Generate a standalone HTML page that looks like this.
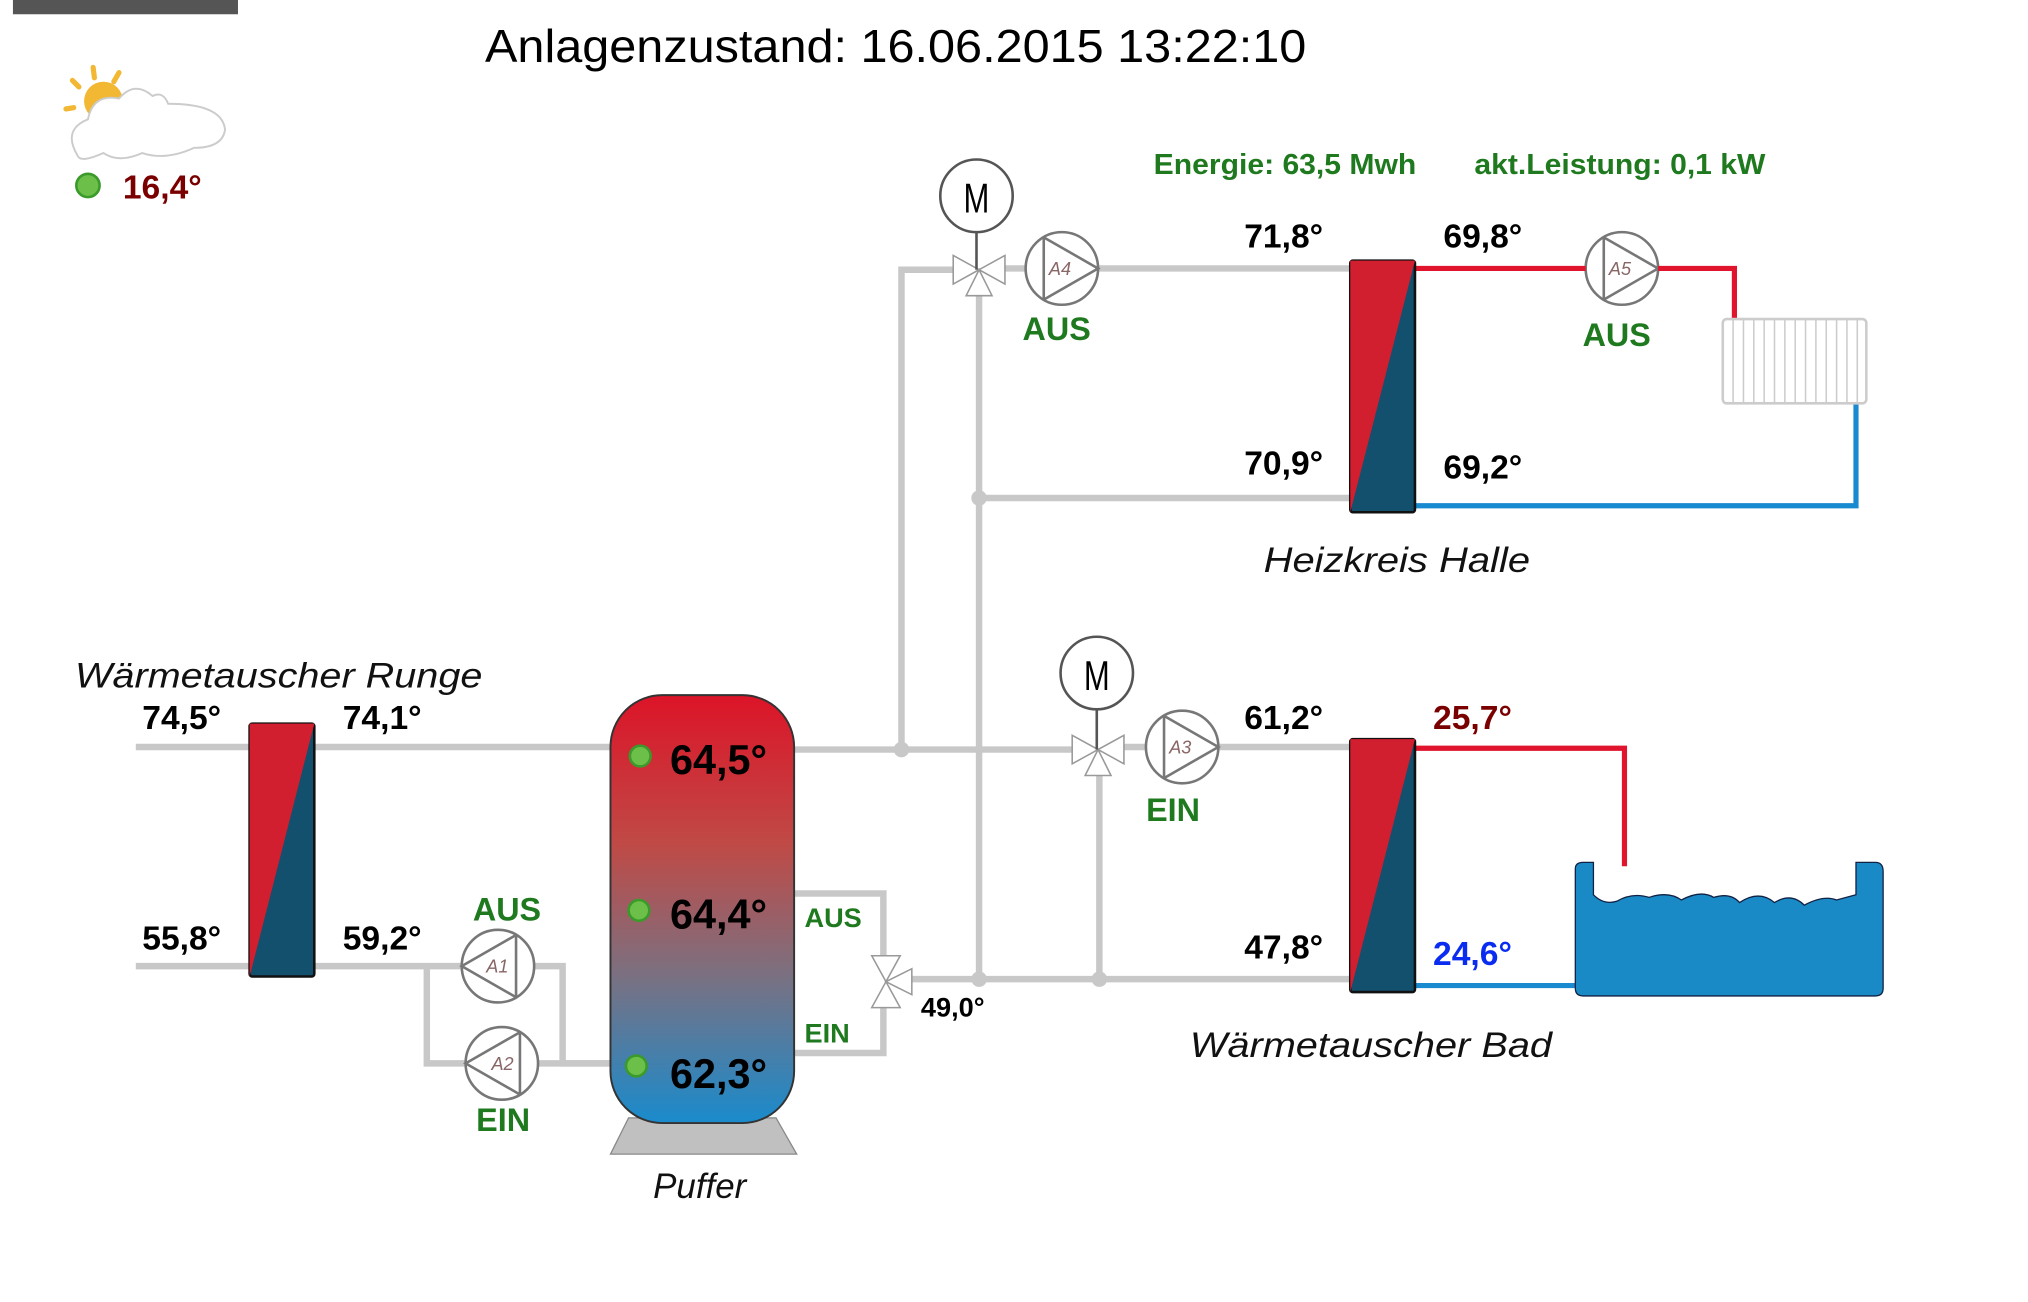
<!DOCTYPE html>
<html><head><meta charset="utf-8"><style>
html,body{margin:0;padding:0;background:#fff;width:2028px;height:1302px;overflow:hidden}
svg{display:block}
text{font-family:"Liberation Sans",sans-serif}
.b{font-weight:bold;font-size:26px;fill:#000}
.g{font-weight:bold;font-size:25px;fill:#1f7a1f}
.it{font-style:italic;font-size:27px;fill:#111}
</style></head><body>
<svg width="2028" height="1302" viewBox="0 0 1568 1004" preserveAspectRatio="none">
<defs>
<linearGradient id="tank" x1="0" y1="0" x2="0" y2="1">
<stop offset="0" stop-color="#dc1428"/><stop offset="0.35" stop-color="#bf4a46"/>
<stop offset="0.65" stop-color="#7c7080"/><stop offset="1" stop-color="#1a8bcc"/></linearGradient>
</defs>
<rect x="10" y="0" width="174" height="11" fill="#555"/>
<text x="375" y="48" font-size="36" textLength="635" lengthAdjust="spacingAndGlyphs">Anlagenzustand:  16.06.2015   13:22:10</text>
<g stroke="#f2b733" stroke-width="4" stroke-linecap="round">
<line x1="72" y1="52" x2="73" y2="60"/><line x1="56" y1="62" x2="61" y2="67"/><line x1="51" y1="84" x2="57" y2="83"/><line x1="92" y1="56" x2="88" y2="63"/></g>
<circle cx="80" cy="78" r="15" fill="#f2b733"/>
<path d="M60 120 Q48 100 68 92 Q72 72 92 76 Q104 62 118 74 Q126 70 130 80 Q172 80 174 100 Q172 114 150 114 Q128 124 110 118 Q92 126 80 118 Q62 126 60 120Z" fill="#fff" stroke="#ccc" stroke-width="1.5"/>
<circle cx="68" cy="143" r="9" fill="#6cc04a" stroke="#3a9a2a" stroke-width="2"/>
<text x="95" y="153" class="b" style="fill:#7a0000;font-size:26px">16,4°</text>
<text x="892" y="134" class="g" style="font-size:22px" textLength="203" lengthAdjust="spacingAndGlyphs">Energie: 63,5 Mwh</text>
<text x="1140" y="134" class="g" style="font-size:22px" textLength="225" lengthAdjust="spacingAndGlyphs">akt.Leistung: 0,1 kW</text>
<g stroke="#c8c8c8" stroke-width="5" fill="none">
<polyline points="697,578 697,208 740,208"/>
<line x1="770" y1="207" x2="1045" y2="207"/>
<line x1="757" y1="225" x2="757" y2="755"/>
<line x1="757" y1="384" x2="1045" y2="384"/>
<line x1="105" y1="576" x2="472" y2="576"/>
<line x1="614" y1="578" x2="830" y2="578"/>
<line x1="866" y1="576" x2="1045" y2="576"/>
<line x1="850" y1="598" x2="850" y2="755"/>
<line x1="700" y1="755" x2="1045" y2="755"/>
<polyline points="614,689 683,689 683,740"/>
<polyline points="614,812 683,812 683,775"/>
<line x1="105" y1="745" x2="193" y2="745"/>
<polyline points="243,745 357,745"/>
<polyline points="330,745 330,820 360,820"/>
<polyline points="413,745 435,745 435,820 472,820"/>
<line x1="416" y1="820" x2="472" y2="820"/>
</g>
<g fill="#c8c8c8"><circle cx="697" cy="578" r="6"/><circle cx="757" cy="384" r="6"/><circle cx="757" cy="755" r="6"/><circle cx="850" cy="755" r="6"/></g>
<g stroke="#999" stroke-width="1.2" fill="#fff">
<path d="M737 197 L757 208 L737 219Z M777 197 L757 208 L777 219Z M757 208 L747 228 L767 228Z"/>
<path d="M829 567 L849 578 L829 589Z M869 567 L849 578 L869 589Z M849 578 L839 598 L859 598Z"/>
<path d="M674 737 L685 757 L696 737Z M674 777 L685 757 L696 777Z M685 757 L705 747 L705 767Z"/>
</g>
<g stroke="#555" stroke-width="2" fill="#fff">
<line x1="755" y1="179" x2="755" y2="208"/><circle cx="755" cy="151" r="28"/>
<line x1="848" y1="547" x2="848" y2="578"/><circle cx="848" cy="519" r="28"/>
</g>
<text x="755" y="164" text-anchor="middle" font-size="32" textLength="20" lengthAdjust="spacingAndGlyphs">M</text>
<text x="848" y="532" text-anchor="middle" font-size="32" textLength="20" lengthAdjust="spacingAndGlyphs">M</text>
<g stroke="#777" stroke-width="2" fill="#fff">
<circle cx="821" cy="207" r="28"/><path d="M807 183 L849 207 L807 231" fill="none"/><line x1="807" y1="183" x2="807" y2="231"/>
<circle cx="914" cy="576" r="28"/><path d="M900 552 L942 576 L900 600" fill="none"/><line x1="900" y1="552" x2="900" y2="600"/>
<circle cx="1254" cy="207" r="28"/><path d="M1240 183 L1282 207 L1240 231" fill="none"/><line x1="1240" y1="183" x2="1240" y2="231"/>
<circle cx="385" cy="745" r="28"/><path d="M399 721 L357 745 L399 769" fill="none"/><line x1="399" y1="721" x2="399" y2="769"/>
<circle cx="388" cy="820" r="28"/><path d="M402 796 L360 820 L402 844" fill="none"/><line x1="402" y1="796" x2="402" y2="844"/>
</g>
<g font-family="Liberation Serif" font-style="italic" font-size="14" fill="#866">
<text x="811" y="212">A4</text><text x="904" y="581">A3</text><text x="1244" y="212">A5</text><text x="376" y="750">A1</text><text x="380" y="825">A2</text></g>
<g fill="none" stroke-width="4">
<polyline points="1094,207 1226,207" stroke="#e0142c"/>
<polyline points="1282,207 1341,207 1341,246" stroke="#e0142c"/>
<polyline points="1435,311 1435,390 1094,390" stroke="#1a8ad0"/>
<polyline points="1094,577 1256,577 1256,668" stroke="#e0142c"/>
<line x1="1094" y1="760" x2="1220" y2="760" stroke="#1a8ad0"/>
</g>
<rect x="1332" y="246" width="111" height="65" fill="#fff" stroke="#ccc" stroke-width="2" rx="3"/>
<g stroke="#ccc" stroke-width="1.2">
<line x1="1340" y1="246" x2="1340" y2="311"/><line x1="1348" y1="246" x2="1348" y2="311"/><line x1="1356" y1="246" x2="1356" y2="311"/><line x1="1364" y1="246" x2="1364" y2="311"/><line x1="1372" y1="246" x2="1372" y2="311"/><line x1="1380" y1="246" x2="1380" y2="311"/><line x1="1388" y1="246" x2="1388" y2="311"/><line x1="1396" y1="246" x2="1396" y2="311"/><line x1="1404" y1="246" x2="1404" y2="311"/><line x1="1412" y1="246" x2="1412" y2="311"/><line x1="1420" y1="246" x2="1420" y2="311"/><line x1="1428" y1="246" x2="1428" y2="311"/><line x1="1436" y1="246" x2="1436" y2="311"/></g>
<path d="M1218 670 Q1218 665 1224 665 L1232 665 L1232 690 Q1240 698 1250 695 Q1262 688 1275 692 Q1290 687 1300 694 Q1315 686 1325 692 Q1338 688 1345 696 Q1360 686 1372 696 Q1385 688 1395 698 Q1410 690 1420 694 L1435 690 L1435 665 L1450 665 Q1456 665 1456 672 L1456 762 Q1456 768 1450 768 L1224 768 Q1218 768 1218 762Z" fill="#1a8ac6" stroke="#124" stroke-width="1"/>
<g stroke="#111" stroke-width="2">
<rect x="1044" y="201" width="50" height="194" fill="#12506e" rx="2"/>
<path d="M1044 201 L1094 201 L1044 395Z" fill="#d21f30" stroke="none"/>
<rect x="1044" y="570" width="50" height="195" fill="#12506e" rx="2"/>
<path d="M1044 570 L1094 570 L1044 765Z" fill="#d21f30" stroke="none"/>
<rect x="193" y="558" width="50" height="195" fill="#12506e" rx="2"/>
<path d="M193 558 L243 558 L193 753Z" fill="#d21f30" stroke="none"/>
</g>
<path d="M486 862 L600 862 L616 890 L472 890Z" fill="#c0c0c0" stroke="#888"/>
<rect x="472" y="536" width="142" height="330" rx="40" fill="url(#tank)" stroke="#333" stroke-width="1.5"/>
<g fill="#6cc04a" stroke="#3a9a2a" stroke-width="2"><circle cx="495" cy="583" r="8"/><circle cx="494" cy="702" r="8"/><circle cx="492" cy="822" r="8"/></g>
<text x="518" y="597" class="b" style="font-size:32px">64,5°</text><text x="518" y="716" class="b" style="font-size:32px">64,4°</text><text x="518" y="839" class="b" style="font-size:32px">62,3°</text>
<text x="962" y="191" class="b">71,8°</text><text x="1116" y="191" class="b">69,8°</text>
<text x="962" y="366" class="b">70,9°</text><text x="1116" y="369" class="b">69,2°</text>
<text x="110" y="562" class="b">74,5°</text><text x="265" y="562" class="b">74,1°</text>
<text x="110" y="732" class="b">55,8°</text><text x="265" y="732" class="b">59,2°</text>
<text x="962" y="562" class="b">61,2°</text><text x="1108" y="562" class="b" style="fill:#7a0000">25,7°</text>
<text x="962" y="739" class="b">47,8°</text><text x="1108" y="744" class="b" style="fill:#0a2cf0">24,6°</text>
<text x="712" y="784" class="b" style="font-size:21px">49,0°</text>
<text x="817" y="262" class="g" text-anchor="middle">AUS</text>
<text x="1250" y="267" class="g" text-anchor="middle">AUS</text>
<text x="907" y="633" class="g" text-anchor="middle">EIN</text>
<text x="392" y="710" class="g" text-anchor="middle">AUS</text>
<text x="389" y="872" class="g" text-anchor="middle">EIN</text>
<text x="622" y="715" class="g" style="font-size:21px">AUS</text>
<text x="622" y="804" class="g" style="font-size:21px">EIN</text>
<text x="977" y="441" class="it" textLength="206" lengthAdjust="spacingAndGlyphs">Heizkreis Halle</text>
<text x="58" y="530" class="it" textLength="315" lengthAdjust="spacingAndGlyphs">Wärmetauscher Runge</text>
<text x="920" y="815" class="it" textLength="280" lengthAdjust="spacingAndGlyphs">Wärmetauscher Bad</text>
<text x="541" y="924" class="it" text-anchor="middle">Puffer</text>
</svg>
</body></html>
